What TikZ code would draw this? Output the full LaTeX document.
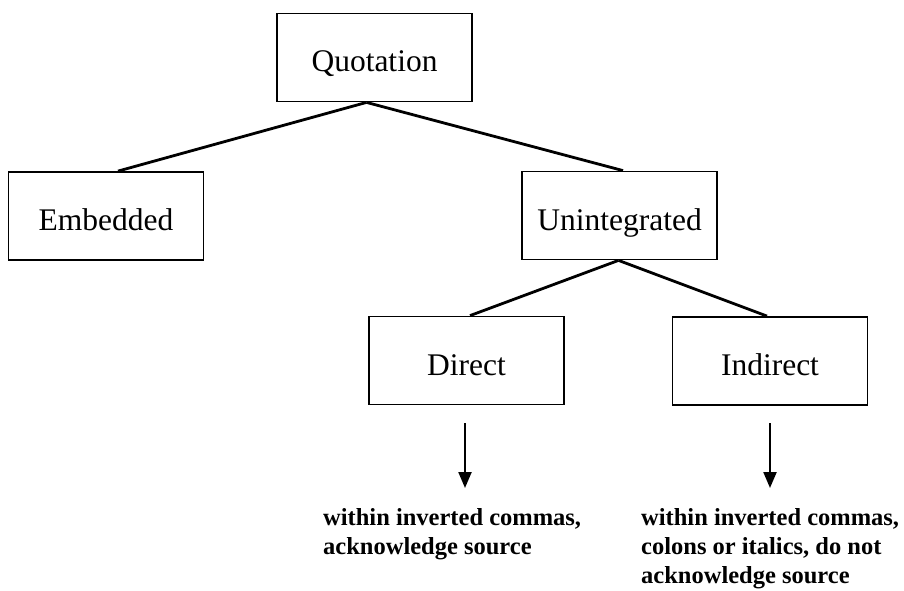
\documentclass[tikz,border=0pt]{standalone}
\usepackage{fontspec}
\setmainfont{Liberation Serif}
\usetikzlibrary{arrows.meta}
\begin{document}
\begin{tikzpicture}[x=1pt,y=-1pt,
  boxnode/.style={draw,line width=1.8pt,minimum width=195pt,minimum height=88pt,inner sep=0pt,
    text height=29pt,text depth=0pt,font=\fontsize{31.5}{36}\selectfont},
  link/.style={line width=2.8pt},
  downarrow/.style={line width=2.2pt,-{Triangle[length=16pt,width=13pt]}},
  note/.style={anchor=north west,inner sep=0pt,align=left,
    font=\bfseries\fontsize{24.5}{29}\selectfont}]
\useasboundingbox (0,0) rectangle (904,591);
\node[boxnode] (q) at (374.5,57.5) {Quotation};
\node[boxnode] (e) at (106,216) {Embedded};
\node[boxnode] (u) at (619.5,215.5) {Unintegrated};
\node[boxnode] (d) at (466.5,360.5) {Direct};
\node[boxnode] (i) at (770,361) {Indirect};
\draw[link] ([xshift=-8pt]q.south) -- ([xshift=12pt]e.north);
\draw[link] ([xshift=-8pt]q.south) -- ([xshift=3.5pt]u.north);
\draw[link] ([xshift=-1pt]u.south) -- ([xshift=3.5pt]d.north);
\draw[link] ([xshift=-1pt]u.south) -- ([xshift=-3pt]i.north);
\coordinate (a1s) at (465,423);
\coordinate (a1e) at (465,488);
\coordinate (a2s) at (770,423);
\coordinate (a2e) at (770,488);
\draw[downarrow] (a1s) -- (a1e);
\draw[downarrow] (a2s) -- (a2e);
\node[note] (t1) at (323,508) {within inverted commas,\\acknowledge source};
\node[note] (t2) at (641,508) {within inverted commas,\\colons or italics, do not\\acknowledge source};
\end{tikzpicture}
\end{document}
